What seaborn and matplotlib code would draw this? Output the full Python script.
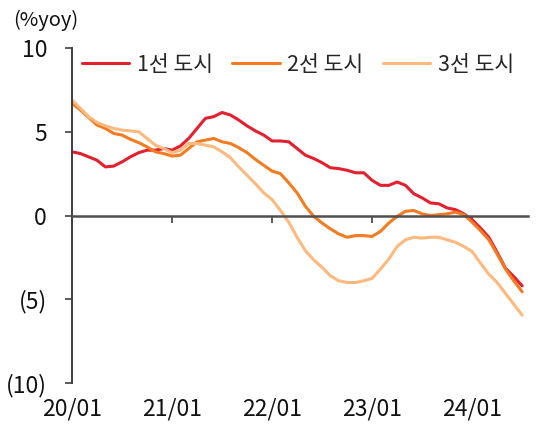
import matplotlib
matplotlib.use("Agg")
import matplotlib.pyplot as plt
import seaborn as sns
import pandas as pd

# monthly yoy, 2020/01 - 2024/07
months = pd.date_range("2020-01-01", periods=55, freq="MS")

tier1 = [3.8, 3.7, 3.5, 3.3, 2.9, 2.95, 3.2, 3.5, 3.75, 3.9,
         3.9, 4.0, 3.9, 4.15, 4.6, 5.2, 5.8, 5.9, 6.15, 6.0,
         5.7, 5.35, 5.05, 4.8, 4.45, 4.45, 4.4, 4.0, 3.6, 3.4,
         3.15, 2.85, 2.8, 2.7, 2.55, 2.55, 2.1, 1.8, 1.8, 2.0,
         1.8, 1.3, 1.05, 0.75, 0.7, 0.45, 0.35, 0.1, -0.25, -0.75,
         -1.3, -2.2, -3.15, -3.65, -4.2]
tier2 = [6.7, 6.3, 5.85, 5.4, 5.2, 4.9, 4.8, 4.55, 4.35, 4.1,
         3.8, 3.7, 3.55, 3.6, 4.0, 4.4, 4.5, 4.6, 4.4, 4.3,
         4.05, 3.75, 3.35, 3.0, 2.65, 2.5, 1.95, 1.35, 0.55, -0.05,
         -0.45, -0.8, -1.1, -1.3, -1.2, -1.2, -1.25, -0.95, -0.45, -0.05,
         0.25, 0.3, 0.1, 0.0, 0.05, 0.1, 0.2, 0.05, -0.4, -0.9,
         -1.45, -2.3, -3.2, -3.9, -4.55]
tier3 = [6.9, 6.4, 5.9, 5.55, 5.35, 5.2, 5.1, 5.05, 5.0, 4.6,
         4.2, 4.0, 3.75, 3.9, 4.3, 4.3, 4.2, 4.1, 3.8, 3.45,
         2.9, 2.4, 1.9, 1.35, 0.95, 0.3, -0.4, -1.3, -2.1, -2.65,
         -3.1, -3.6, -3.9, -4.0, -4.0, -3.9, -3.75, -3.2, -2.6, -1.85,
         -1.45, -1.3, -1.35, -1.3, -1.3, -1.45, -1.6, -1.85, -2.15, -2.85,
         -3.5, -4.0, -4.65, -5.3, -5.95]

names = ["1선 도시", "2선 도시", "3선 도시"]
colors = ["#E4202E", "#F47B20", "#FDB97E"]
yticks = [10, 5, 0, -5, -10]
ylabels = ["10", "5", "0", "(5)", "(10)"]

sns.set_style("white")
plt.rcParams['font.family'] = ['Noto Sans CJK KR', 'DejaVu Sans']

df = pd.DataFrame({"idx": list(range(len(months))) * 3,
                   "val": tier1 + tier2 + tier3,
                   "series": [n for n in names for _ in months]})

fig = plt.figure(figsize=(5.37, 4.30), dpi=100)
ax = fig.add_axes([72 / 537, 1 - 383 / 430, (528 - 72) / 537, (383 - 48) / 430])

sns.lineplot(data=df, x="idx", y="val", hue="series", palette=colors,
             linewidth=2.2, ax=ax)

ax.set_xlim(0, 54.7)
ax.set_ylim(-10, 10)
ax.set_xlabel("")
ax.set_ylabel("")

# x axis sits on the zero line
ax.spines['bottom'].set_position(('data', 0))
ax.spines['bottom'].set_color("#505050")
ax.spines['bottom'].set_linewidth(1.8)
ax.spines['left'].set_color("#404040")
ax.spines['left'].set_linewidth(1.4)
ax.spines['top'].set_visible(False)
ax.spines['right'].set_visible(False)

xt = [i for i, m in enumerate(months) if m.month == 1]
ax.set_xticks(xt)
ax.set_xticklabels([months[i].strftime("%y/%m") for i in xt])
ax.tick_params(axis='x', bottom=True, direction='out', length=5, width=1.2,
               color="#404040", pad=126, labelsize=16.5, labelcolor="#111111")
ax.set_yticks(yticks)
ax.set_yticklabels(ylabels)
ax.tick_params(axis='y', left=True, direction='out', length=5, width=1.2,
               color="#404040", pad=13, labelsize=16.5, labelcolor="#111111")

fig.text(13 / 537, 1 - 20 / 430, "(%yoy)", ha='left', va='center', fontsize=14.5,
         color="#111111")

leg = ax.legend(loc='center left', bbox_to_anchor=(82 / 537, 1 - 65 / 430),
                bbox_transform=fig.transFigure, ncol=3, frameon=False,
                fontsize=15.5, handlelength=2.2, handletextpad=0.35,
                columnspacing=0.9, borderpad=0, borderaxespad=0)
for line in leg.get_lines():
    line.set_linewidth(2.2)

fig.savefig("out.png", dpi=100)
